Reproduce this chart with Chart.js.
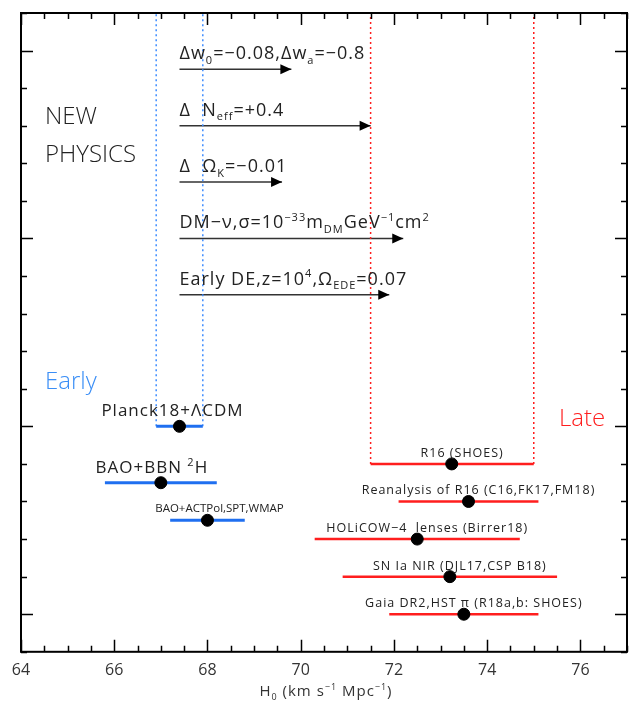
<!DOCTYPE html>
<html>
<head>
<meta charset="utf-8">
<script src="https://cdn.jsdelivr.net/npm/chart.js@4.4.0/dist/chart.umd.min.js"></script>
<style>
  html, body { margin: 0; padding: 0; background: #fff; }
  #wrap { width: 640px; height: 709px; }
</style>
</head>
<body>
<div id="wrap"><canvas id="h0Chart"></canvas></div>
<script>
// H0 tension overview: early vs late universe + new physics shifts

// late universe measurements
const lateNames = ['R16 (SHOES)', 'Reanalysis of R16 (C16,FK17,FM18)', 'HOLiCOW\u22124  lenses (Birrer18)', 'SN Ia NIR (DJL17,CSP B18)', 'Gaia DR2,HST \u03c0 (R18a,b: SHOES)'];
const lateH0 = [73.24, 73.6, 72.5, 73.2, 73.5];
const lateLo = [71.5, 72.1, 70.3, 70.9, 71.9];
const lateHi = [75.0, 75.1, 74.7, 75.5, 75.1];
const lateRow = [5, 4, 3, 2, 1];

// early universe measurements
const earlyNames = ['Planck18+\u039bCDM', 'BAO+BBN ^{2}H', 'BAO+ACTPol,SPT,WMAP'];
const earlyH0 = [67.4, 67.0, 68.0];
const earlyLo = [66.9, 65.8, 67.2];
const earlyHi = [67.9, 68.2, 68.8];
const earlyRow = [6, 4.5, 3.5];

// new physics shifts (arrows start from Planck value)
const physNames = [
    '\u0394w_{0}=\u22120.08,\u0394w_{a}=\u22120.8',
    '\u0394  N_{eff}=+0.4',
    '\u0394  \u03a9_{K}=\u22120.01',
    'DM\u2212\u03bd,\u03c3=10^{\u221233}m_{DM}GeV^{\u22121}cm^{2}',
    'Early DE,z=10^{4},\u03a9_{EDE}=0.07'
];
const physStart = [67.4, 67.4, 67.4, 67.4, 67.4];
const physEnd = [69.8, 71.5, 69.6, 72.2, 71.9];
const physRow = [15.5, 14, 12.5, 11, 9.5];

// axis ticks
const xMajorTicks = [64, 66, 68, 70, 72, 74, 76];
const xMinorStep = 0.5;
const yMajorTicks = [1, 6, 11, 16];
const yMinorStep = 1;
const xTitle = 'H_{0} (km s^{\u22121} Mpc^{\u22121})';

const FONT = '"Open Sans", "DejaVu Sans", sans-serif';
const INK = '#222';
const BLUE = '#1f6ff0';
const RED = '#ff1e1e';

function parseRich(str) {
    const parts = [];
    const re = /([_^])\{([^}]*)\}/g;
    let last = 0, m;
    while ((m = re.exec(str))) {
        if (m.index > last) parts.push({ t: str.slice(last, m.index), k: 'n' });
        parts.push({ t: m[2], k: m[1] === '_' ? 'sub' : 'sup' });
        last = re.lastIndex;
    }
    if (last < str.length) parts.push({ t: str.slice(last), k: 'n' });
    return parts;
}

function drawRich(ctx, str, x, y, size, align, color, spacing) {
    const parts = parseRich(str);
    const fontFor = k => `${k === 'n' ? size : Math.round(size * 0.62)}px ${FONT}`;
    ctx.letterSpacing = (spacing || 0) + 'px';
    let w = 0;
    parts.forEach(p => { ctx.font = fontFor(p.k); p.w = ctx.measureText(p.t).width; w += p.w; });
    let cx = align === 'center' ? x - w / 2 : x;
    ctx.fillStyle = color;
    ctx.textAlign = 'left';
    ctx.textBaseline = 'alphabetic';
    parts.forEach(p => {
        ctx.font = fontFor(p.k);
        const dy = p.k === 'sub' ? size * 0.25 : p.k === 'sup' ? -size * 0.42 : 0;
        ctx.fillText(p.t, cx, y + dy);
        cx += p.w;
    });
    ctx.letterSpacing = '0px';
}

function segment(x0, x1, y0, y1) {
    return [{ x: x0, y: y0 }, { x: x1, y: y1 }];
}

const datasets = [];

// points on top
datasets.push({
    data: earlyH0.map((v, i) => ({ x: v, y: earlyRow[i] }))
        .concat(lateH0.map((v, i) => ({ x: v, y: lateRow[i] }))),
    pointRadius: 6, pointBackgroundColor: '#000', pointBorderColor: '#000', showLine: false
});

earlyH0.forEach((v, i) => datasets.push({
    data: segment(earlyLo[i], earlyHi[i], earlyRow[i], earlyRow[i]),
    showLine: true, borderColor: BLUE, borderWidth: 3, pointRadius: 0
}));
lateH0.forEach((v, i) => datasets.push({
    data: segment(lateLo[i], lateHi[i], lateRow[i], lateRow[i]),
    showLine: true, borderColor: RED, borderWidth: 2.5, pointRadius: 0
}));

// dotted bands from Planck and R16
[earlyLo[0], earlyHi[0]].forEach(v => datasets.push({
    data: segment(v, v, earlyRow[0], 17),
    showLine: true, borderColor: '#3d8cff', borderWidth: 1.5, borderDash: [2, 3], pointRadius: 0
}));
[lateLo[0], lateHi[0]].forEach(v => datasets.push({
    data: segment(v, v, lateRow[0], 17),
    showLine: true, borderColor: RED, borderWidth: 1.5, borderDash: [2, 3], pointRadius: 0
}));

// arrows
physEnd.forEach((v, i) => datasets.push({
    data: segment(physStart[i], v, physRow[i], physRow[i]),
    showLine: true, borderColor: '#333', borderWidth: 1.5, pointRadius: 0
}));

const decorPlugin = {
    id: 'decor',
    afterDatasetsDraw(chart) {
        const { ctx, chartArea: a, scales: { x, y } } = chart;
        ctx.save();

        // arrow heads
        ctx.fillStyle = '#000';
        physEnd.forEach((v, i) => {
            const px = x.getPixelForValue(v), py = y.getPixelForValue(physRow[i]);
            ctx.beginPath();
            ctx.moveTo(px, py);
            ctx.lineTo(px - 11, py - 5);
            ctx.lineTo(px - 11, py + 5);
            ctx.closePath();
            ctx.fill();
        });

        // frame + inward ticks
        ctx.strokeStyle = '#000';
        ctx.lineWidth = 2;
        ctx.strokeRect(a.left, a.top, a.right - a.left, a.bottom - a.top);
        ctx.lineWidth = 1.5;
        ctx.beginPath();
        for (let v = x.min; v <= x.max + 1e-6; v += xMinorStep) {
            const px = Math.round(x.getPixelForValue(v)) + 0.5;
            const len = xMajorTicks.includes(v) ? 12 : 6;
            ctx.moveTo(px, a.bottom); ctx.lineTo(px, a.bottom - len);
            ctx.moveTo(px, a.top); ctx.lineTo(px, a.top + len);
        }
        for (let v = y.min; v <= y.max + 1e-6; v += yMinorStep) {
            const py = Math.round(y.getPixelForValue(v)) + 0.5;
            const len = yMajorTicks.includes(v) ? 12 : 6;
            ctx.moveTo(a.left, py); ctx.lineTo(a.left + len, py);
            ctx.moveTo(a.right, py); ctx.lineTo(a.right - len, py);
        }
        ctx.stroke();

        // arrow labels
        physNames.forEach((t, i) => {
            drawRich(ctx, t, x.getPixelForValue(physStart[i]), y.getPixelForValue(physRow[i]) - 10, 18, 'left', INK, 1);
        });

        // early labels
        const earlyDx = [-7, -9, 12];
        const earlySize = [17, 17, 11.5];
        const earlyGap = [1, 1, 0];
        const earlyDy = [10, 10, 8];
        earlyNames.forEach((t, i) => {
            const cx = (x.getPixelForValue(earlyLo[i]) + x.getPixelForValue(earlyHi[i])) / 2 + earlyDx[i];
            drawRich(ctx, t, cx, y.getPixelForValue(earlyRow[i]) - earlyDy[i], earlySize[i], 'center', INK, earlyGap[i]);
        });

        // late labels
        lateNames.forEach((t, i) => {
            const cx = (x.getPixelForValue(lateLo[i]) + x.getPixelForValue(lateHi[i])) / 2 + 10;
            drawRich(ctx, t, cx, y.getPixelForValue(lateRow[i]) - 7, 12.5, 'center', INK, 1);
        });

        // axis title
        drawRich(ctx, xTitle, (a.left + a.right) / 2 + 2, 696, 15, 'center', '#333', 1);

        // big labels
        ctx.font = `300 24px ${FONT}`;
        ctx.textBaseline = 'middle';
        ctx.textAlign = 'left';
        ctx.fillStyle = INK;
        ctx.fillText('NEW', a.left + 24, 117);
        ctx.fillText('PHYSICS', a.left + 24, 155);
        ctx.fillStyle = '#3a8ef6';
        ctx.fillText('Early', a.left + 24, 382);
        ctx.fillStyle = RED;
        ctx.textAlign = 'center';
        ctx.fillText('Late', 582, 419);

        ctx.restore();
    }
};

new Chart(document.getElementById('h0Chart'), {
    type: 'scatter',
    data: { datasets },
    options: {
        responsive: true,
        maintainAspectRatio: false,
        animation: false,
        layout: { padding: { left: 21, right: 13, top: 13, bottom: 20 } },
        plugins: { legend: { display: false }, tooltip: { enabled: false } },
        scales: {
            x: {
                type: 'linear', min: 64, max: 77,
                grid: { display: false, drawTicks: false },
                border: { display: false },
                ticks: {
                    stepSize: 2, includeBounds: false, padding: 9,
                    color: '#333', font: { family: FONT, size: 16 }
                },
                title: { display: false }
            },
            y: { type: 'linear', min: 0, max: 17, display: false }
        }
    },
    plugins: [decorPlugin]
});
</script>
</body>
</html>
